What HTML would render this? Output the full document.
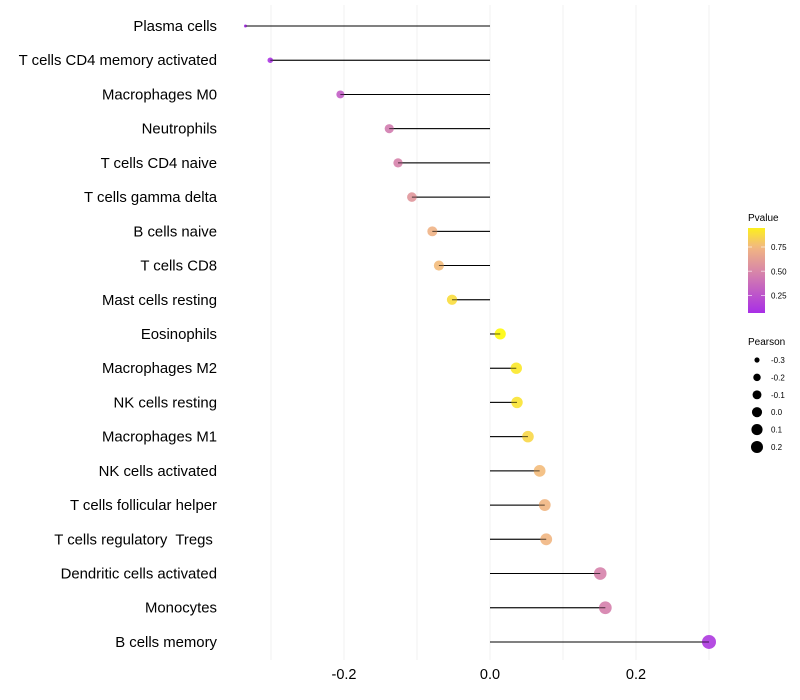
<!DOCTYPE html>
<html><head><meta charset="utf-8"><style>
html,body{margin:0;padding:0;background:#fff;}
svg{display:block;font-family:"Liberation Sans",sans-serif;}
text{white-space:pre;}
</style></head><body>
<svg id="chart" width="800" height="700"></svg>
<script>
const categories=["Plasma cells","T cells CD4 memory activated","Macrophages M0","Neutrophils","T cells CD4 naive","T cells gamma delta","B cells naive","T cells CD8","Mast cells resting","Eosinophils","Macrophages M2","NK cells resting","Macrophages M1","NK cells activated","T cells follicular helper","T cells regulatory  Tregs ","Dendritic cells activated","Monocytes","B cells memory"];
const pearson=[-0.335,-0.301,-0.205,-0.138,-0.126,-0.107,-0.079,-0.070,-0.052,0.014,0.036,0.037,0.052,0.068,0.075,0.077,0.151,0.158,0.300];
const pvalues=[0.05,0.1,0.3,0.45,0.48,0.58,0.72,0.76,0.88,0.98,0.92,0.9,0.86,0.76,0.74,0.74,0.48,0.47,0.12];
const xTicks=[-0.2,0.0,0.2];
const gridVals=[-0.3,-0.2,-0.1,0,0.1,0.2,0.3];
const pTicks=[0.25,0.50,0.75];
const sizeTicks=[-0.3,-0.2,-0.1,0.0,0.1,0.2];

const NS="http://www.w3.org/2000/svg";
const svg=document.getElementById('chart');
function mk(t,a,p){const e=document.createElementNS(NS,t);for(const k in a)e.setAttribute(k,a[k]);(p||svg).appendChild(e);return e;}
const xS=v=>490+v*730;
const yS=i=>26+i*34.22;
const rS=v=>1.5+5.5*Math.sqrt(Math.max(0,(v+0.335)/0.635));
const stops=[[0,[160,32,240]],[0.5,[216,134,168]],[0.75,[242,184,128]],[1,[255,255,0]]];
function col(p){for(let i=1;i<stops.length;i++){if(p<=stops[i][0]){const a=stops[i-1],b=stops[i];const t=(p-a[0])/(b[0]-a[0]);const c=a[1].map((v,j)=>Math.round(v+(b[1][j]-v)*t));return `rgb(${c})`;}}return 'rgb(255,255,0)';}
const pY=p=>295.5-(p-0.25)*97;

gridVals.forEach(v=>{const g=mk('line',{x1:xS(v),x2:xS(v),y1:5,y2:660,stroke:'#f0f0f0','stroke-width':1});

});
xTicks.forEach(v=>{const t=mk('text',{x:xS(v),y:679,'text-anchor':'middle','font-size':14.5,fill:'#000'});t.textContent=v.toFixed(1);

});
categories.forEach((c,i)=>{const y=yS(i);
const t=mk('text',{x:217,y:y+5,'text-anchor':'end','font-size':14.9,fill:'#000'});t.textContent=c;


const l=mk('line',{x1:xS(0),x2:xS(pearson[i]),y1:y,y2:y,stroke:'#000','stroke-width':1});


const d=mk('circle',{cx:xS(pearson[i]),cy:y,r:rS(pearson[i]),fill:col(pvalues[i]),'fill-opacity':0.9});


const l2=mk('line',{x1:xS(0),x2:xS(pearson[i]),y1:y,y2:y,stroke:'#000','stroke-width':1,'stroke-opacity':0.6});


});
const lt=mk('text',{x:748,y:221,'font-size':10});lt.textContent='Pvalue';


const defs=mk('defs',{});const lg=mk('linearGradient',{id:'pg',x1:0,y1:1,x2:0,y2:0},defs);
for(let k=0;k<=20;k++){const p=0.07+k/20*(0.945-0.07);mk('stop',{offset:k/20,'stop-color':col(p)},lg);}
const cb=mk('rect',{x:748,y:228,width:17,height:85,fill:'url(#pg)'});


pTicks.forEach(p=>{const y=pY(p);mk('line',{x1:748,x2:752,y1:y,y2:y,stroke:'#fff','stroke-opacity':0.6});mk('line',{x1:761,x2:765,y1:y,y2:y,stroke:'#fff','stroke-opacity':0.6});
const t=mk('text',{x:771,y:y+3,'font-size':8});t.textContent=p.toFixed(2);

});
const st=mk('text',{x:748,y:345,'font-size':10});st.textContent='Pearson';


sizeTicks.forEach((v,k)=>{const y=360+k*17.4;
const c=mk('circle',{cx:757,cy:y,r:rS(v)*0.92,fill:'#000'});


const t=mk('text',{x:771,y:y+3,'font-size':8});t.textContent=v.toFixed(1);

});
</script>
</body></html>
